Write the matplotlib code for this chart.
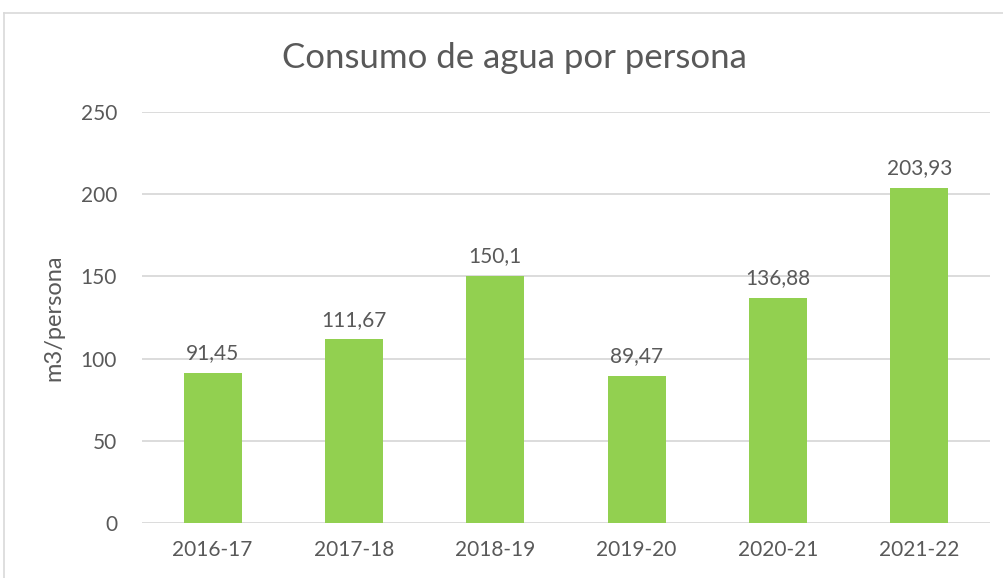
import matplotlib.pyplot as plt
from matplotlib.lines import Line2D

periodos = ["2016-17", "2017-18", "2018-19", "2019-20", "2020-21", "2021-22"]
consumo = [91.45, 111.67, 150.1, 89.47, 136.88, 203.93]
etiquetas = ["91,45", "111,67", "150,1", "89,47", "136,88", "203,93"]

gris = "#595959"
verde = "#92D050"

plt.rcParams['font.family'] = ['Lato', 'DejaVu Sans']

fig = plt.figure(figsize=(10.04, 5.78), dpi=100)
W, H = 1004, 578
ax = fig.add_axes([142 / W, 1 - 523 / H, (990 - 142) / W, (523 - 112) / H])

x = range(len(periodos))
bars = ax.bar(x, consumo, width=0.41, color=verde, zorder=3)
for b, t in zip(bars, etiquetas):
    ax.annotate(t, (b.get_x() + b.get_width() / 2, b.get_height()),
                xytext=(0, 7), textcoords='offset points',
                ha='center', va='bottom', fontsize=15, color=gris)

ax.set_xlim(-0.5, len(periodos) - 0.5)
ax.set_ylim(0, 250)
ax.set_yticks(range(0, 251, 50))
ax.set_xticks(list(x))
ax.set_xticklabels(periodos)
ax.tick_params(axis='both', length=0, labelsize=15, labelcolor=gris)
ax.tick_params(axis='y', pad=18)
ax.tick_params(axis='x', pad=12)
ax.grid(axis='y', color='#D9D9D9', lw=1.3, zorder=0)
for s in ax.spines.values():
    s.set_visible(False)

ax.set_ylabel("m3/persona", fontsize=17, color=gris, labelpad=12)
fig.text(514 / W, 1 - 58 / H, "Consumo de agua por persona",
         ha='center', va='center', fontsize=25, color=gris)

# marco del gráfico
fig.add_artist(Line2D([4 / W, 4 / W], [0, 1 - 13 / H], color='#D9D9D9', lw=1.2))
fig.add_artist(Line2D([4 / W, 1], [1 - 13 / H, 1 - 13 / H], color='#D9D9D9', lw=1.2))

fig.savefig("out.png", dpi=100)
